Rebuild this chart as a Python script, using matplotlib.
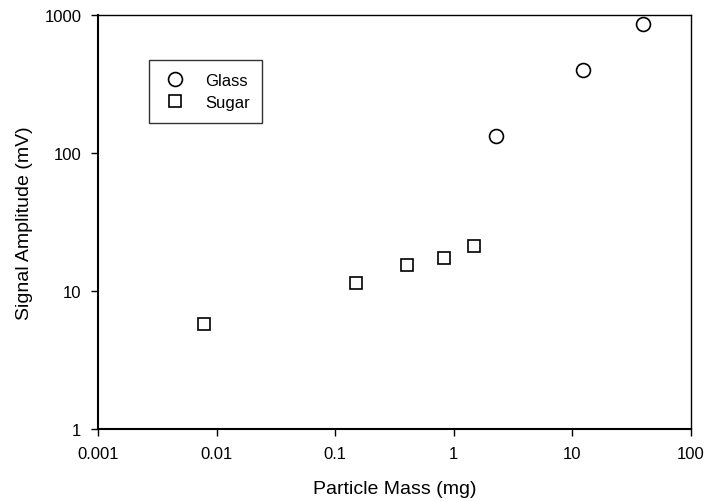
import matplotlib.pyplot as plt

plt.rcParams['font.family'] = ['Liberation Sans', 'DejaVu Sans']

# dados
glass_mass = [2.26, 12.3, 39.2]
glass_signal = [133, 398, 857]
sugar_mass = [0.0078, 0.151, 0.40, 0.82, 1.47]
sugar_signal = [5.77, 11.4, 15.5, 17.3, 21.1]

x_ticks = [0.001, 0.01, 0.1, 1, 10, 100]
x_labels = ['0.001', '0.01', '0.1', '1', '10', '100']
y_ticks = [1, 10, 100, 1000]
y_labels = ['1', '10', '100', '1000']

fig = plt.figure(figsize=(7.06, 5.02), dpi=100)
ax = fig.add_axes([0.1388, 0.1434, 0.84, 0.8246])

ax.plot(glass_mass, glass_signal, 'o', ms=10, mfc='white', mec='black', mew=1.2, label='Glass', ls='none')
ax.plot(sugar_mass, sugar_signal, 's', ms=9, mfc='white', mec='black', mew=1.2, label='Sugar', ls='none')

ax.set_xscale('log')
ax.set_yscale('log')
ax.set_xlim(0.001, 100)
ax.set_ylim(1, 1000)
ax.set_xticks(x_ticks)
ax.set_xticklabels(x_labels)
ax.set_yticks(y_ticks)
ax.set_yticklabels(y_labels)
ax.minorticks_off()
ax.tick_params(direction='out', length=5, width=1, labelsize=12, pad=7)

for lado in ['top', 'right']:
    ax.spines[lado].set_linewidth(1.0)
for lado in ['left', 'bottom']:
    ax.spines[lado].set_linewidth(1.5)

ax.set_xlabel('Particle Mass (mg)', fontsize=14, labelpad=14)
ax.set_ylabel('Signal Amplitude (mV)', fontsize=14, labelpad=8)

leg = ax.legend(loc='upper left', bbox_to_anchor=(0.086, 0.891), borderaxespad=0,
                fontsize=12, frameon=True, fancybox=False, borderpad=0.75,
                handletextpad=1.0, labelspacing=0.45, handlelength=1.6)
leg.get_frame().set_edgecolor('black')
leg.get_frame().set_linewidth(1.0)

plt.savefig('out.png', dpi=100)
